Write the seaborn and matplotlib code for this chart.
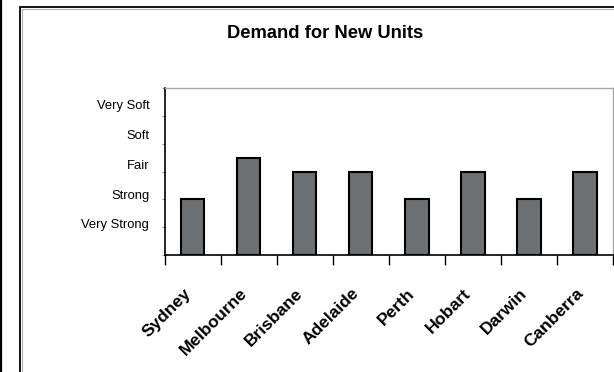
import numpy as np
import matplotlib
matplotlib.use("Agg")
import matplotlib.pyplot as plt
import matplotlib.transforms as mtransforms
from matplotlib.lines import Line2D
import seaborn as sns

# Demand rating per city (0 = none, 1 = Very Strong ... 5 = Very Soft scale)
cities = ["Sydney", "Melbourne", "Brisbane", "Adelaide", "Perth", "Hobart", "Darwin", "Canberra"]
demand = [2, 3.5, 3, 3, 2, 3, 2, 3]
levels = ["Very Strong", "Strong", "Fair", "Soft", "Very Soft"]
level_pos = [1.12, 2.19, 3.26, 4.33, 5.40]

sns.set_style("white")
plt.rcParams["font.family"] = ["Liberation Sans", "DejaVu Sans"]
plt.rcParams["text.color"] = "black"
plt.rcParams["xtick.labelcolor"] = "black"
plt.rcParams["ytick.labelcolor"] = "black"

W, H = 614, 372
fig = plt.figure(figsize=(W / 100, H / 100), dpi=100)
fig.patch.set_facecolor("white")

left, right, top, bottom = 164.5, 613, 88, 255
ax = fig.add_axes([left / W, 1 - bottom / H, (right - left) / W, (bottom - top) / H])

sns.barplot(x=cities, y=demand, ax=ax, color="#6d7073", saturation=1,
            edgecolor="black", linewidth=1.5, width=0.42)

ax.set_xlim(-0.5, len(cities) - 0.5)
ax.set_ylim(0, 6)
ax.set_xlabel("")
ax.set_ylabel("")

# spines: dark left/bottom, light grey top/right
for s in ("left", "bottom"):
    ax.spines[s].set_color("black")
    ax.spines[s].set_linewidth(1.2)
for s in ("top", "right"):
    ax.spines[s].set_color("#a8a8a8")
    ax.spines[s].set_linewidth(1.0)
    ax.spines[s].set_visible(True)

# y axis: small grey ticks at integers, rating names as labels
ax.set_yticks(range(7))
ax.set_yticklabels([""] * 7)
ax.tick_params(axis="y", which="major", length=2, width=0.8, color="#9a9a9a", direction="out", left=True)
ax.set_yticks(level_pos, minor=True)
ax.set_yticklabels(levels, minor=True, fontsize=9.4)
ax.tick_params(axis="y", which="minor", length=0, pad=11, left=True, labelcolor="black")

# x axis: tick marks between categories, bold rotated city names
ax.set_xticks(np.arange(-0.5, len(cities), 1.0), minor=True)
ax.tick_params(axis="x", which="minor", length=7, width=1, color="black", direction="out", bottom=True)
ax.tick_params(axis="x", which="major", length=0, pad=26, bottom=True, labelcolor="black")
offset = mtransforms.ScaledTranslation(-3 / 72, 0, fig.dpi_scale_trans)
for lab in ax.get_xticklabels():
    lab.set_rotation(45)
    lab.set_ha("right")
    lab.set_va("center")
    lab.set_rotation_mode("anchor")
    lab.set_fontweight("bold")
    lab.set_fontsize(12.5)
    lab.set_transform(lab.get_transform() + offset)

fig.text(325 / W, 1 - 34 / H, "Demand for New Units", ha="center", va="center",
         fontsize=13.2, fontweight="bold", color="black")

# chart frame and page edge
def fline(xs, ys, **kw):
    fig.add_artist(Line2D([x / W for x in xs], [1 - y / H for y in ys],
                          transform=fig.transFigure, **kw))

fline([1, 1], [0, H], color="black", lw=1.6)
fline([20, 20], [H, 7], color="black", lw=1.3)
fline([20, W], [7, 7], color="black", lw=1.3)
fline([21.5, 21.5], [H, 8.5], color="#b0b0b0", lw=0.8)
fline([21.5, W], [8.5, 8.5], color="#b0b0b0", lw=0.8)

fig.savefig("out.png", dpi=100)
